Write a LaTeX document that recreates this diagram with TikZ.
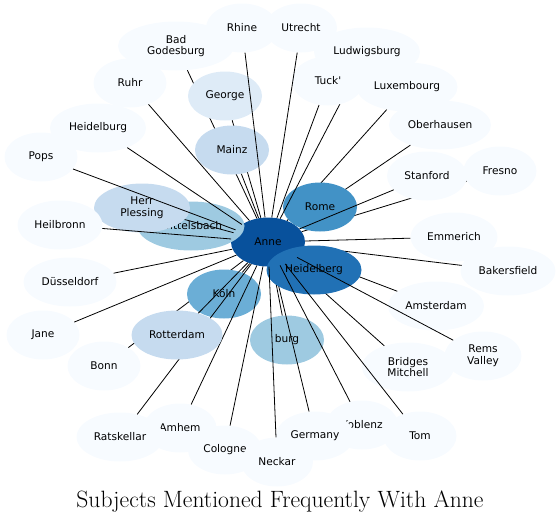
\documentclass[tikz,border=0pt]{standalone}
\usepackage{fontspec}
\newfontfamily\labelfont{DejaVu Sans}
\usepackage{tikz}
\usetikzlibrary{shapes.geometric}
\definecolor{blue1}{HTML}{F7FBFF}
\definecolor{blue2}{HTML}{DEEBF7}
\definecolor{blue3}{HTML}{C6DBEF}
\definecolor{blue4}{HTML}{9ECAE1}
\definecolor{blue5}{HTML}{6BAED6}
\definecolor{blue6}{HTML}{4292C6}
\definecolor{blue7}{HTML}{2171B5}
\definecolor{blue8}{HTML}{08519C}

\begin{document}
\begin{tikzpicture}[
  x=1pt, y=-1pt,
  subject/.style={ellipse, inner sep=0pt, minimum height=49pt, align=center,
                  font=\labelfont\fontsize{10.6}{11.6}\selectfont},
  rare/.style={subject, fill=blue1},
  few/.style={subject, fill=blue2},
  some/.style={subject, fill=blue3},
  often/.style={subject, fill=blue4},
  more/.style={subject, fill=blue5},
  many/.style={subject, fill=blue6},
  most/.style={subject, fill=blue7},
  centre/.style={subject, fill=blue8},
  link/.style={draw=black, line width=0.8pt}
]
\useasboundingbox (0,0) rectangle (560,522);

% --- centre ---
\node[centre, minimum width=74pt] (anne) at (268,242) {Anne};

% --- upper right ---
\node[rare, minimum width=73pt] (fresno) at (500,171) {Fresno};
\draw[link] (anne) -- (fresno);
\node[rare, minimum width=101pt] (luxembourg) at (407,87) {Luxembourg};
\draw[link] (anne) -- (luxembourg);
\node[rare, minimum width=102pt] (oberhausen) at (440,125) {Oberhausen};
\draw[link] (anne) -- (oberhausen);
\node[many, minimum width=74pt] (rome) at (320,207) {Rome};
\node[rare, minimum width=80pt] (stanford) at (427,176) {Stanford};
\draw[link] (anne) -- (stanford);

% --- top ---
\node[rare, minimum width=106pt] (ludwigsburg) at (367,52) {Ludwigsburg};
\draw[link] (anne) -- (ludwigsburg);
\node[rare, minimum width=72pt] (tuck) at (328,81) {Tuck'};
\draw[link] (anne) -- (tuck);
\node[rare, minimum width=72pt] (utrecht) at (301,28) {Utrecht};
\draw[link] (anne) -- (utrecht);
\node[rare, minimum width=116pt] (godesburg) at (176,46) {Bad\\Godesburg};
\draw[link] (anne) -- (godesburg);
\node[few, minimum width=74pt] (george) at (225,96) {George};
\draw[link] (anne) -- (george);
\node[some, minimum width=74pt] (mainz) at (232,150) {Mainz};
\draw[link] (anne) -- (mainz);
\node[rare, minimum width=72pt] (rhine) at (242,28) {Rhine};
\draw[link] (anne) -- (rhine);

% --- left ---
\node[rare, minimum width=73pt] (ruhr) at (130,83) {Ruhr};
\draw[link] (anne) -- (ruhr);
\node[often, minimum width=107pt] (wittelsbach) at (191,226) {Wittelsbach};
\node[some, minimum width=96pt] (plessing) at (142,208) {Herr\\Plessing};
\draw[link] (anne) -- (plessing);
\node[rare, minimum width=96pt] (heidelburg) at (98,128) {Heidelburg};
\draw[link] (anne) -- (heidelburg);
\node[rare, minimum width=73pt] (pops) at (41,157) {Pops};
\draw[link] (anne) -- (pops);
\node[rare, minimum width=85pt] (heilbronn) at (60,225) {Heilbronn};
\draw[link] (anne) -- (heilbronn);
\node[rare, minimum width=93pt] (duesseldorf) at (70,282) {Düsseldorf};
\draw[link] (anne) -- (duesseldorf);
\node[rare, minimum width=73pt] (jane) at (43,335) {Jane};
\draw[link] (anne) -- (jane);

% --- lower left ---
\node[rare, minimum width=73pt] (bonn) at (104,366) {Bonn};
\draw[link] (anne) -- (bonn);
\node[more, minimum width=74pt] (koeln) at (224,294) {Köln};
\draw[link] (anne) -- (koeln);
\node[rare, minimum width=73pt] (amhem) at (180,428) {Amhem};
\draw[link] (anne) -- (amhem);
\node[rare, minimum width=87pt] (ratskellar) at (120,437) {Ratskellar};
\draw[link] (anne) -- (ratskellar);
\node[some, minimum width=91pt] (rotterdam) at (177,335) {Rotterdam};
\draw[link] (anne) -- (rotterdam);
\node[rare, minimum width=74pt] (cologne) at (225,450) {Cologne};
\draw[link] (anne) -- (cologne);

% --- right ---
\node[rare, minimum width=87pt] (emmerich) at (454,237) {Emmerich};
\draw[link] (anne) -- (emmerich);
\node[rare, minimum width=95pt] (bakersfield) at (508,271) {Bakersfield};
\draw[link] (anne) -- (bakersfield);
\node[rare, minimum width=96pt] (amsterdam) at (436,306) {Amsterdam};
\draw[link] (anne) -- (amsterdam);
\node[rare, minimum width=92pt] (bridges) at (408,367) {Bridges\\Mitchell};
\draw[link] (anne) -- (bridges);

% --- lower right ---
\node[often, minimum width=74pt] (burg) at (287,340) {burg};
\draw[link] (anne) -- (burg);
\node[rare, minimum width=72pt] (neckar) at (277,462) {Neckar};
\node[rare, minimum width=72pt] (koblenz) at (362,425) {Koblenz};
\node[rare, minimum width=78pt] (germany) at (315,436) {Germany};
\draw[link] (anne) -- (germany);
\node[most, minimum width=95pt] (heidelberg) at (314,270) {Heidelberg};
\draw[link] (anne) -- (neckar);
\draw[link] (anne) -- (koblenz);
\node[rare, minimum width=73pt] (tom) at (420,436) {Tom};
\draw[link] (anne) -- (tom);
\node[rare, minimum width=77pt] (rems) at (483,356) {Rems\\Valley};
\draw[link] (anne) -- (rems);

% --- title ---
\node[anchor=base, font=\fontsize{23.6}{28}\selectfont] (title) at (280,507)
  {Subjects Mentioned Frequently With Anne};
\end{tikzpicture}
\end{document}
